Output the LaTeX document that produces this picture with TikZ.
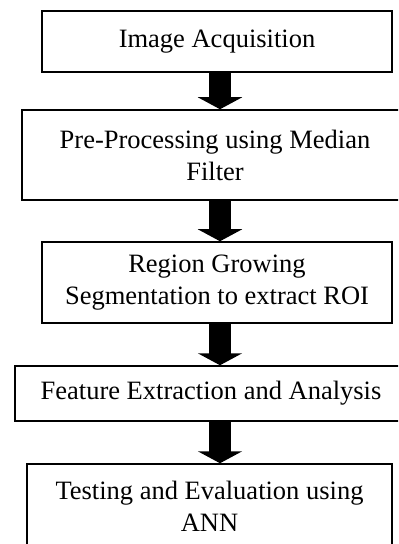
\documentclass[tikz,border=0pt]{standalone}
\usepackage{fontspec}
\setmainfont{Liberation Serif}
\usetikzlibrary{arrows.meta}
\begin{document}
\begin{tikzpicture}[x=1bp,y=-1bp,
  box/.style={draw=black, line width=1.5bp, rectangle, inner sep=0pt, align=center,
    font=\fontsize{26.5bp}{32bp}\selectfont},
  flow/.style={line width=22bp, -{Triangle[width=44bp,length=12bp]}}]
\useasboundingbox (0,0) rectangle (398,544);
\clip (0,0) rectangle (398,544);
\node[box, minimum width=350bp, minimum height=61bp] (b1) at (217,41.5) {Image Acquisition};
\node[box, minimum width=386bp, minimum height=90bp] (b2) at (215,155) {Pre-Processing using Median\\Filter};
\node[box, minimum width=350bp, minimum height=81bp] (b3) at (217,282.5) {Region Growing\\Segmentation to extract ROI};
\node[box, minimum width=392bp, minimum height=55bp] (b4) at (211,393.5) {Feature Extraction and Analysis};
\node[box, minimum width=365bp, minimum height=84bp] (b5) at (209.5,506) {Testing and Evaluation using\\ANN};
\coordinate (ax) at (220,0);
\draw[flow] (b1.south -| ax) -- (b2.north -| ax);
\draw[flow] (b2.south -| ax) -- (b3.north -| ax);
\draw[flow] (b3.south -| ax) -- (b4.north -| ax);
\draw[flow] (b4.south -| ax) -- (b5.north -| ax);
\end{tikzpicture}
\end{document}
